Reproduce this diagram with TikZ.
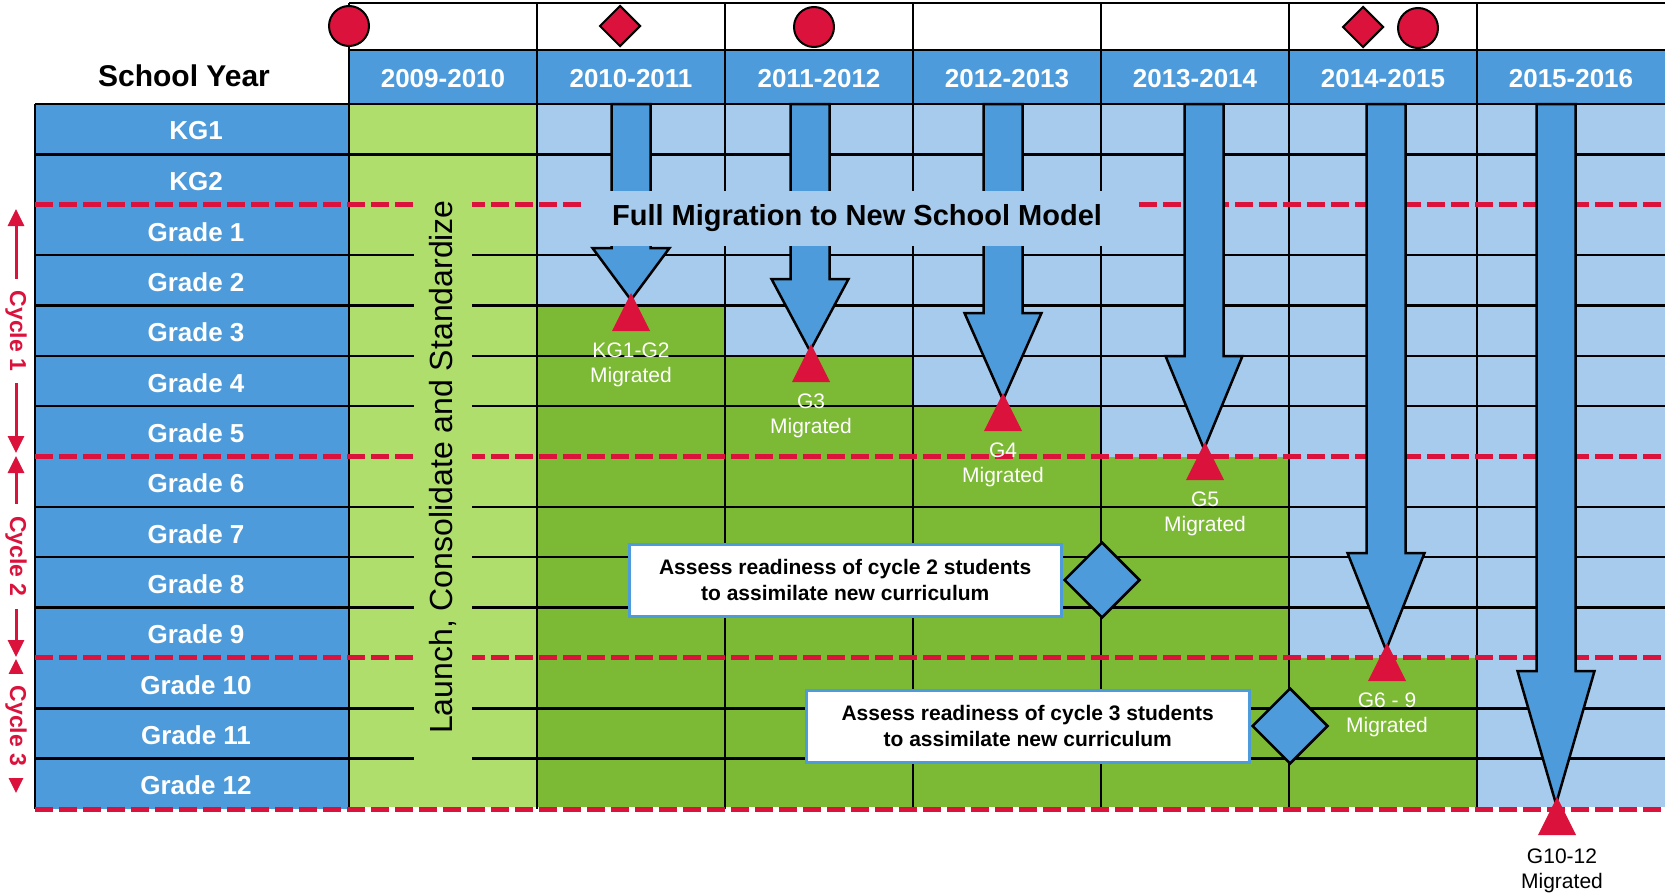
\documentclass[tikz,border=0pt]{standalone}
\usepackage{fontspec}
\setmainfont{Liberation Sans}
\usetikzlibrary{arrows.meta,shapes.geometric}

\definecolor{midblue}{RGB}{77,155,219}
\definecolor{paleblue}{RGB}{167,203,236}
\definecolor{palegreen}{RGB}{176,222,108}
\definecolor{leafgreen}{RGB}{124,185,52}
\definecolor{cyclered}{RGB}{218,18,60}

\newcommand{\pxfont}[2]{\fontsize{#1}{#2}\selectfont}

\begin{document}
\begin{tikzpicture}
  [x=1pt,y=-1pt,
   gridline/.style={line width=2.5pt},
   cycleline/.style={cyclered,line width=5pt,dash pattern=on 18pt off 6pt},
   headlbl/.style={text=white,font=\pxfont{26}{30}\bfseries},
   blockarrow/.style={fill=midblue,draw=black,line width=2.5pt},
   marker/.style={fill=cyclered,draw=black,line width=2pt,inner sep=0pt},
   migrated/.style={font=\pxfont{21}{25},align=center,text=white},
   assessbox/.style={fill=white,draw=midblue,line width=3pt,font=\pxfont{21}{26}\bfseries,
                     align=center,minimum height=72pt,anchor=east},
   checkpoint/.style={diamond,fill=midblue,draw=black,line width=2.5pt,
                      minimum width=76pt,minimum height=76pt,inner sep=0pt},
   cyclearrow/.style={cyclered,line width=3pt,
                      {Triangle[width=16pt,length=17pt]}-{Triangle[width=16pt,length=17pt]}},
   cyclelbl/.style={text=cyclered,font=\pxfont{23}{27}\bfseries,rotate=-90,
                    fill=white,inner xsep=12pt,inner ysep=1pt}]

  \useasboundingbox (0,0) rectangle (1665,894);

  % fills
  \fill[midblue] (35,104) rectangle (349,809);
  \fill[midblue] (349,50) rectangle (1665,104);
  \fill[palegreen] (349,104) rectangle (537,807);
  \fill[paleblue] (537,104) rectangle (1665,807);
  \foreach \c/\i in {537/4,725/5,913/6,1101/7,1289/11}
    \fill[leafgreen] (\c,104+50.36*\i) rectangle (\c+188,807);

  % grid
  \foreach \i in {0,1,3,4,5,6,8,9,10,12,13}
    \draw[gridline] (35,104+50.36*\i) -- (1665,104+50.36*\i);
  \draw[gridline] (35,104) -- (35,809);
  \foreach \c in {349,537,725,913,1101,1289,1477}
    \draw[gridline] (\c,3) -- (\c,809);
  \draw[gridline] (349,3) -- (1665,3);
  \draw[gridline] (349,50) -- (1665,50);

  % cycle boundaries
  \foreach \i in {2,7,11,14}
    \draw[cycleline] (35,104+50.36*\i) -- (1665,104+50.36*\i);

  \node (launch) [rotate=90,fill=palegreen,minimum width=589pt,minimum height=58pt,
                  inner sep=0pt,font=\pxfont{32}{36}] at (443,467)
        {Launch, Consolidate and Standardize};

  \foreach \x/\h/\t in {631/248/300,810/279/351,1003/313/400,1204/356/449,1386/553/650,1556/671/804}
    \draw[blockarrow] (\x-19.5,104) -- (\x-19.5,\h) -- (\x-38.5,\h) -- (\x,\t)
                      -- (\x+38.5,\h) -- (\x+19.5,\h) -- (\x+19.5,104) -- cycle;

  \node (fullmig) [fill=paleblue,minimum width=553pt,minimum height=55pt,inner sep=0pt,
                   font=\pxfont{29}{33}\bfseries] at (857,218.5)
        {Full Migration to New School Model};

  % migration markers
  \foreach \x/\a/\txt [count=\k] in {631/293/{KG1-G2\\Migrated},811/344/{G3\\Migrated},
                                     1003/393/{G4\\Migrated},1205/442/{G5\\Migrated},
                                     1387/643/{G6 - 9\\Migrated}}
  {
    \fill[cyclered] (\x,\a) -- (\x+19,\a+38) -- (\x-19,\a+38) -- cycle;
    \node[migrated] (mig\k) at (\x,\a+72) {\txt};
  }
  \fill[cyclered] (1557,797) -- (1576,835) -- (1538,835) -- cycle;
  \node[migrated,text=black] (mig6) at (1562,871) {G10-12\\Migrated};

  % checkpoints
  \node[checkpoint] (chk2) at (1102,580) {};
  \node[assessbox,minimum width=432pt] (assess2) at (chk2.west)
        {Assess readiness of cycle 2 students\\to assimilate new curriculum};
  \node[checkpoint] (chk3) at (1290,726) {};
  \node[assessbox,minimum width=443pt] (assess3) at (chk3.west)
        {Assess readiness of cycle 3 students\\to assimilate new curriculum};

  % milestones
  \node[marker,circle,minimum size=40pt] (ms1) at (349,26) {};
  \node[marker,diamond,minimum width=41pt,minimum height=41pt] (ms2) at (620,26) {};
  \node[marker,circle,minimum size=40pt] (ms3) at (814,27) {};
  \node[marker,diamond,minimum width=41pt,minimum height=41pt] (ms4) at (1363,27) {};
  \node[marker,circle,minimum size=40pt] (ms5) at (1418,28) {};

  % labels
  \node (school) [font=\pxfont{30}{34}\bfseries] at (184,76) {School Year};
  \foreach \yr [count=\k from 0] in {2009-2010,2010-2011,2011-2012,2012-2013,2013-2014,2014-2015,2015-2016}
    \node[headlbl] (yr\k) at (443+188*\k,79) {\yr};
  \foreach \g [count=\i from 0] in {KG1,KG2,Grade 1,Grade 2,Grade 3,Grade 4,Grade 5,Grade 6,
                                    Grade 7,Grade 8,Grade 9,Grade 10,Grade 11,Grade 12}
    \node[headlbl] (row\i) at (196,131+50.36*\i) {\g};

  % cycles
  \coordinate (c1top) at (16,209);
  \coordinate (c1bot) at (16,453);
  \coordinate (c2top) at (16,456);
  \coordinate (c2bot) at (16,657);
  \coordinate (c3top) at (16,659);
  \coordinate (c3bot) at (16,793);
  \draw[cyclearrow] (c1top) -- node[cyclelbl] (cyc1) {Cycle 1} (c1bot);
  \draw[cyclearrow] (c2top) -- node[cyclelbl] (cyc2) {Cycle 2} (c2bot);
  \draw[cyclearrow] (c3top) -- node[cyclelbl] (cyc3) {Cycle 3} (c3bot);
\end{tikzpicture}
\end{document}
